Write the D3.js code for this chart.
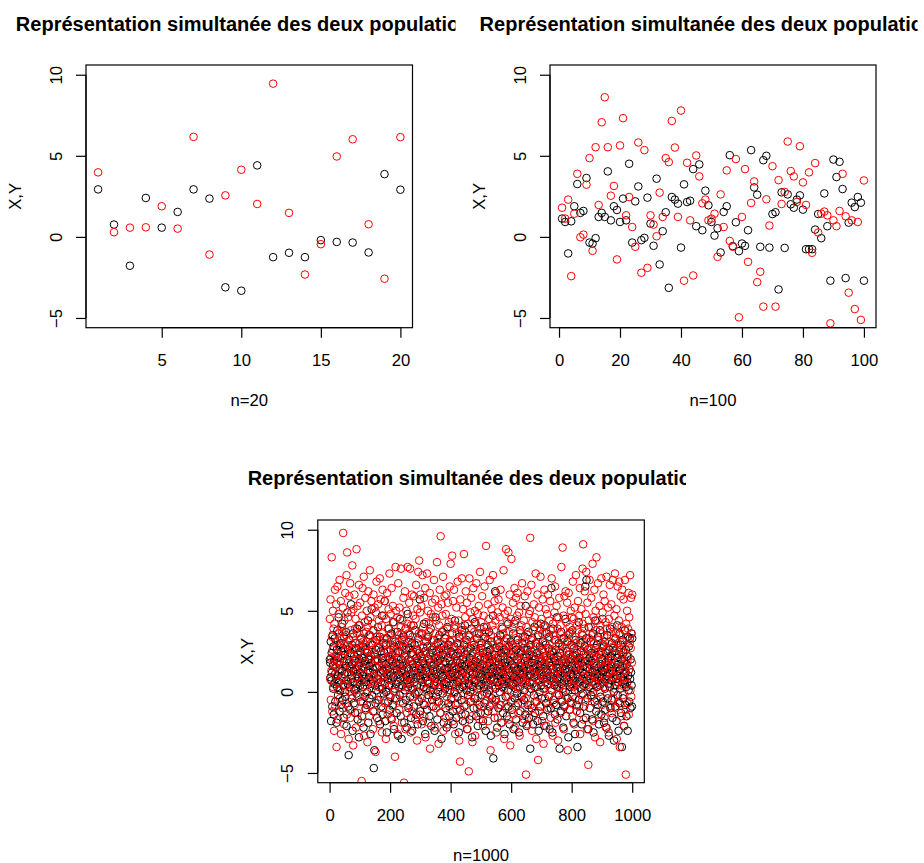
<!DOCTYPE html>
<html>
<head>
<meta charset="utf-8">
<script src="https://cdn.jsdelivr.net/npm/d3@7"></script>
<style>
  body { margin: 0; background: #fff; }
  svg { display: block; font-family: "Liberation Sans", Arial, sans-serif; }
</style>
</head>
<body>
<svg id="chart" width="924" height="863"></svg>
<script>
const titleText = "Représentation simultanée des deux populations";
const yLim = [-5, 10];
const yTicks = [-5, 0, 5, 10];

// n = 20
const xTicks20 = [5, 10, 15, 20];
const x20 = [2.93, 0.76, -1.78, 2.40, 0.57, 1.54, 2.93, 2.36, -3.11, -3.32, 4.41, -1.25, -0.98, -1.25, -0.20, -0.31, -0.35, -0.96, 3.87, 2.91];
const y20 = [3.98, 0.29, 0.57, 0.59, 1.89, 0.51, 6.17, -1.09, 2.56, 4.14, 2.03, 9.45, 1.48, -2.32, -0.45, 4.96, 6.02, 0.78, -2.58, 6.15];

// n = 100
const xTicks100 = [0, 20, 40, 60, 80, 100];
const x100 = [1.13, 0.92, -1.02, 0.96, 1.89, 3.26, 1.48, 1.60, 3.63, -0.35,
  -0.41, -0.08, 1.23, 1.48, 1.23, 4.04, 1.02, 1.89, 1.66, 0.92,
  2.36, 1.02, 4.51, -0.35, 2.19, 3.11, -0.20, -0.06, 2.42, 0.82,
  -0.55, 3.59, -1.70, 0.35, 1.52, -3.14, 2.46, 2.30, 2.05, -0.66,
  3.24, 2.15, 2.23, 4.18, 0.66, 4.47, 0.41, 2.85, 1.95, 0.92,
  0.08, 0.53, -0.96, 1.54, 1.89, 5.04, -0.57, 0.90, -0.88, -0.41,
  -0.55, 0.41, 5.35, 3.05, 2.60, -0.61, 4.73, 5.00, -0.66, 1.41,
  1.52, -3.24, 2.75, -0.68, 2.62, 2.01, 1.80, 2.30, 2.56, 1.68,
  -0.76, -0.76, -0.76, 0.45, 1.41, -0.08, 2.68, 0.66, -2.70, 4.77,
  3.69, 4.63, 2.95, -2.54, 0.88, 2.11, 1.84, 2.46, 2.11, -2.70];
const y100 = [1.80, 1.13, 2.30, -2.42, 1.43, 3.89, -0.02, 0.14, 3.22, 4.86,
  -0.86, 5.53, 1.97, 7.07, 8.61, 5.53, 2.54, 3.14, -1.39, 5.64,
  7.32, 1.33, 2.46, 0.61, -0.61, 5.82, -2.21, 5.35, -1.91, 1.33,
  0.76, 0.04, 2.73, 1.23, 4.86, 4.61, 7.15, 5.51, 1.23, 7.79,
  -2.70, 4.57, 1.02, -2.38, 5.02, 3.73, 2.07, 2.30, 1.02, 1.13,
  1.43, -1.23, 2.62, 0.61, 4.10, -0.25, -0.61, 4.80, -4.96, 1.23,
  4.18, -1.54, 2.09, 3.42, -2.79, -2.15, -4.30, 2.32, 0.70, 4.36,
  -4.30, 3.50, 2.03, 2.77, 5.88, 4.06, 3.73, 2.15, 5.59, 3.36,
  1.97, 3.98, -0.98, 4.55, 0.27, 1.43, 1.56, 1.33, -5.33, 1.02,
  0.66, 1.60, 3.89, 1.27, -3.44, 1.02, -4.45, 0.92, -5.12, 3.48];

// n = 1000 (values estimated, too dense to read one by one)
const xTicks1000 = [0, 200, 400, 600, 800, 1000];
const x1000 = [
  2.0, 1.8, 0.9, 3.1, -1.8, 0.7, 2.4, 1.2, -0.9, 3.5, 1.6, 0.2, 2.8, -1.4, 1.9, 0.5, 3.3, 1.1, -0.6, 2.2,
  0.8, 1.5, -1.9, 2.6, 0.3, 3.8, 1.0, -0.2, 2.1, 4.6, 0.6, 1.7, -1.2, 2.9, 0.1, 1.4, 3.0, -0.8, 2.5, 0.9,
  1.3, 4.2, -0.5, 2.7, 0.4, 1.9, -1.6, 3.4, 1.1, 0.0, 2.3, -0.3, 1.6, 3.7, 0.7, -2.1, 2.0, 1.2, 4.9, 0.5,
  2.6, -0.9, -3.9, 1.8, 3.2, 0.3, 1.5, -1.1, 2.4, 0.8, 5.4, 1.0, -0.4, 2.9, 1.7, -2.4, 0.6, 3.6, 1.3, -0.7,
  2.2, 0.1, 1.9, -1.3, 3.0, 1.4, 0.2, 2.7, -0.1, 1.1, 3.9, 0.5, -1.7, 2.3, 1.6, 0.9, -2.8, 2.0, 4.1, 1.2,
  0.4, 2.5, -0.6, 1.8, 3.3, 0.7, -1.5, 2.1, 1.0, 0.3, 2.8, -2.2, 1.5, 3.6, 0.8, -0.3, 1.9, 2.6, -1.0, 0.6,
  1.7, 3.1, -0.8, 2.4, 0.0, 1.3, 4.4, -1.9, 2.0, 0.9, 1.6, -0.4, 3.5, 1.2, -2.6, 2.2, 0.5, 1.8, 5.1, -0.2,
  2.9, 0.7, 1.4, -1.2, 3.8, -4.7, 1.1, -3.6, 2.3, 0.4, 1.9, -0.7, 2.6, 0.1, 3.2, 1.5, -1.6, 0.8, 2.0, 4.0,
  1.0, -0.5, 2.7, 0.3, 1.6, 3.4, -2.0, 1.2, 0.6, 2.5, -0.9, 1.8, 4.7, 0.2, -1.4, 2.1, 1.3, 3.0, -0.1, 0.9,
  2.4, 5.6, 0.5, -1.8, 1.7, 2.9, 0.0, 1.1, -2.5, 3.3, 1.4, 0.8, 2.2, -0.6, 1.5, 3.9, 0.4, -1.1, 2.0, 1.2,
  -0.3, 2.6, 1.0, 3.6, -1.7, 0.7, 1.9, 2.3, -0.8, 4.3, 0.9, 1.6, -2.3, 2.8, 0.2, 1.3, 3.1, -0.4, 1.8, 0.5,
  2.1, -1.3, 1.4, 3.7, 0.6, -2.7, 2.5, 1.1, 0.3, 2.9, -0.2, 1.7, 4.5, 0.8, -1.5, 2.0, 1.2, -2.9, 3.2, 0.4,
  1.6, 2.8, -0.7, 0.9, 3.4, 1.3, -1.9, 2.2, 0.1, 1.8, 3.9, -0.5, 1.0, 2.6, -2.2, 0.7, 1.5, 4.8, 0.3, 2.0,
  -1.0, 1.4, 2.7, 0.5, 3.5, -0.3, 1.9, 0.8, -1.6, 2.4, 1.1, 3.0, -2.4, 1.7, 0.2, 2.3, 4.1, -0.9, 1.3, 0.6,
  2.9, -0.1, 1.5, 3.8, 0.9, -1.4, 2.1, 1.2, 0.4, 2.6, -2.0, 1.8, 3.3, 0.0, 1.6, -0.6, 2.4, 5.7, 1.0, -1.2,
  0.8, 2.2, 1.4, -0.4, 3.6, 0.6, 1.9, -1.8, 2.7, 1.1, 0.3, 4.2, -0.8, 1.7, 2.5, -2.6, 0.9, 1.3, 3.1, 0.2,
  1.5, -1.1, 2.8, 0.7, 1.2, 3.4, -0.2, 2.0, 0.5, -1.5, 1.8, 2.3, 0.1, 3.9, 1.0, -2.1, 1.6, 2.6, -0.5, 0.9,
  2.4, 1.3, -0.9, 3.2, 0.4, 1.7, -2.4, 2.1, 0.8, 4.6, 1.1, -0.3, 2.5, 0.6, 1.4, -1.7, 3.0, 1.9, 0.0, 2.2,
  -0.6, 1.6, 3.5, 0.3, 2.0, -1.3, 1.2, 2.7, 0.7, -2.9, 1.5, 3.7, 0.9, -0.1, 2.3, 1.0, -1.9, 2.8, 0.5, 1.4,
  3.3, 0.2, -1.0, 1.8, 2.6, 0.6, -2.2, 1.3, 4.0, 0.8, 2.1, -0.7, 1.5, 2.9, 0.4, -1.5, 1.9, 3.1, 0.1, 1.1,
  2.5, -0.4, 1.7, 0.9, 3.6, 1.2, -1.2, 2.3, 0.5, -2.0, 1.6, 2.8, 0.0, 4.4, 1.0, -0.8, 2.2, 1.4, -1.6, 0.7,
  1.9, 3.0, -0.3, 1.1, 2.4, 0.6, -2.5, 1.5, 3.4, 0.2, 1.8, -1.1, 2.6, 0.8, 1.3, -0.5, 3.8, 1.7, 0.3, -1.8,
  2.0, 1.2, 0.4, 2.9, -0.9, 1.6, 4.1, 0.7, -1.4, 2.3, 1.0, 0.1, 3.2, -2.3, 1.4, 2.5, 0.9, -0.2, 1.8, 3.5,
  0.5, -1.7, 2.1, 1.3, 0.0, 2.7, -0.6, 1.6, 3.9, 0.8, -2.8, 1.1, 2.4, 0.3, 1.7, -1.0, 2.9, 1.5, 0.6, 4.3,
  -0.4, 1.9, 2.6, 0.7, -1.5, 1.2, 3.3, 0.2, 1.8, -2.1, 2.2, 1.0, 0.4, 3.6, -0.8, 1.4, 2.0, 0.9, -1.3, 2.7,
  1.1, 0.5, 3.0, -0.2, 1.7, 2.4, -1.8, 0.8, 1.5, 4.0, 0.3, -0.7, 2.1, 1.3, 3.4, -2.4, 1.0, 0.6, 2.5, -0.1,
  1.6, 2.9, 0.4, -1.2, 2.2, 1.0, 3.7, 0.1, -0.9, 1.8, 2.6, 0.7, -2.7, 1.4, 3.1, 0.9, -0.4, 2.0, 1.2, 4.7,
  -4.1, 1.5, 0.8, 2.3, -1.6, 1.1, 6.2, 0.2, 1.9, -0.5, 2.7, 1.3, 0.6, -2.2, 3.2, 1.0, 2.1, -1.0, 0.4, 1.7,
  2.8, 0.0, 1.4, 3.5, -0.8, 1.2, 2.4, -1.9, 0.7, 1.6, 3.9, 0.3, -1.3, 2.2, 1.1, 0.5, 2.6, -2.6, 1.8, 0.9,
  1.3, -0.3, 2.5, 0.8, 3.3, -1.5, 1.6, 2.0, 0.1, 4.2, -0.9, 1.4, 2.8, 0.6, -2.0, 1.9, 1.0, 3.1, -0.6, 2.3,
  0.4, 1.7, -1.1, 2.9, 1.2, 0.5, 3.6, -2.3, 1.5, 0.9, 2.2, -0.4, 1.0, 4.4, 0.2, -1.7, 2.6, 1.3, 0.7, -0.1,
  2.0, 3.2, -0.7, 1.4, 0.8, -2.5, 2.4, 1.1, 0.3, 3.8, -1.2, 1.8, 2.5, 0.6, -0.3, 1.6, 3.0, -1.9, 1.2, 0.9,
  2.7, -0.5, 1.5, 0.1, 3.4, 1.9, -1.4, 5.3, 0.7, 2.1, -2.1, 1.3, 2.6, 0.4, -0.8, 1.7, 3.7, 1.0, -1.6, 2.3,
  0.6, 1.4, -3.5, 2.9, 1.1, 0.2, 2.5, -1.0, 1.8, 3.3, 0.5, -2.0, 1.6, 2.2, -0.2, 0.9, 4.0, 1.2, -1.3, 2.0,
  1.5, 3.0, 0.3, -0.6, 2.4, 1.0, -1.8, 1.7, 3.5, 0.7, -2.4, 2.1, 1.3, 0.0, 2.8, -0.9, 1.6, 4.2, 0.4, 1.9,
  -0.4, 2.6, 1.1, 0.8, 3.1, -1.5, 1.4, 2.2, 0.2, -2.1, 4.1, 1.7, 0.6, 2.9, -0.7, 1.2, 3.6, 0.9, -1.1, 2.0,
  1.3, 0.5, 2.7, -0.3, 1.8, 3.4, -2.3, 1.0, 0.7, 2.3, -1.0, 1.6, 6.4, 0.1, 2.5, -2.5, 1.4, 3.9, 0.8, -0.5,
  2.1, 1.2, 0.4, 3.2, -1.4, 1.9, 0.6, 2.6, -0.8, 1.5, 4.6, 0.3, -1.7, 2.2, 1.1, 0.9, 3.0, -0.2, 1.7, -3.5,
  0.8, 2.4, 1.3, -1.2, 3.7, 0.5, 1.9, -0.6, 2.8, 1.0, 0.2, -2.2, 1.6, 3.3, 0.7, -0.9, 2.0, 1.4, 4.5, 0.0,
  1.8, -1.5, 2.5, 0.9, 1.2, 3.1, -0.4, 1.7, -2.8, 2.3, 0.6, 1.4, 3.6, -1.1, 0.3, 2.0, 1.1, -0.7, 2.9, 0.5,
  1.6, 3.8, -0.3, 1.0, 2.2, -1.9, 0.7, 2.7, 1.3, 0.1, -2.6, 1.9, 3.2, 0.4, 1.5, -0.8, 2.4, 1.1, -3.4, 2.0,
  0.9, 1.7, 4.3, -0.5, 2.1, 0.6, 1.4, -1.3, 3.0, 0.2, 1.8, 2.5, -2.0, 0.8, 1.2, 3.5, -0.1, 1.6, 0.4, 2.3,
  -0.9, 1.1, 2.8, 0.5, 6.5, 1.9, -1.6, 3.3, 6.9, 0.7, 1.5, -0.4, 2.6, 1.0, -2.3, 4.0, 0.3, 1.7, 2.1, -1.0,
  1.4, 0.8, 3.1, -0.2, 1.9, 2.4, -1.7, 0.6, 1.2, 3.6, 0.0, -2.5, 1.8, 2.2, 0.9, -0.6, 1.3, 4.4, 0.5, 2.7,
  -1.2, 1.6, 0.3, 2.9, 1.1, -0.8, 3.4, 0.7, 1.5, -2.0, 2.3, 1.0, 0.4, 3.8, -0.3, 1.7, 2.5, -1.4, 0.9, 1.3,
  2.0, 4.5, -0.6, 1.2, 0.6, 2.8, -1.9, 1.5, 3.1, 0.2, -1.1, 1.8, 2.4, 0.8, -2.2, 1.0, 3.5, 1.4, -0.4, 2.1,
  0.5, 1.9, -2.7, 2.6, 1.1, 0.3, 3.9, -1.0, 1.6, 2.2, 0.7, -0.5, 1.3, 3.0, -1.6, 0.9, 2.7, 1.2, 0.0, -3.0,
  1.8, 2.5, 0.4, -0.9, 3.3, 1.5, 0.8, -1.8, 2.1, 1.0, 4.1, -0.2, 1.7, 0.6, -2.4, 2.3, 1.3, 3.6, -0.7, 0.2,
  1.4, 2.9, -1.3, 0.9, 2.0, -3.4, 1.6, 3.2, 0.5, -0.4, 2.4, 1.1, -2.1, 0.7, 1.9, 3.8, -0.8, 1.2, 2.6, 0.3,
  -1.5, 1.7, 2.2, 0.6, -2.4, 3.4, 1.0, 0.1, 2.8, -0.6, 1.4, 3.3, 0.8, -1.0, 2.0, 1.2, 3.6, 0.4, -0.9, 3.3];
const y1000 = [
  4.5, 0.8, 5.7, -0.5, 2.1, 1.3, 8.3, 3.4, -1.2, 2.6, 5.0, 0.3, 3.9, 1.7, -2.4, 4.2, 2.0, 6.3, -0.9, 1.5,
  3.1, 5.4, -3.4, 2.4, 0.6, 6.5, 1.9, -1.7, 3.6, 4.8, 0.1, 2.8, 6.9, -0.4, 3.3, 1.2, 5.6, -2.6, 2.2, 4.0,
  0.9, 3.7, -1.0, 5.2, 9.8, 1.6, 3.0, -2.0, 4.4, 0.4, 2.5, 6.1, -0.7, 3.5, 1.8, 7.2, -1.4, 8.6, 2.9, 0.7,
  4.6, 1.1, -2.9, 3.2, 5.9, 0.0, 2.3, 6.7, -1.6, 3.8, 1.4, 4.9, -0.2, 2.7, 7.8, 0.5, 3.4, -3.3, 5.1, 1.9,
  2.6, 6.0, -0.8, 3.9, 1.2, 4.5, -2.2, 2.0, 8.8, 0.9, 3.6, 5.3, -1.3, 2.4, 0.2, 4.1, 6.6, -0.3, 3.0, 1.7,
  5.5, 0.6, 3.3, -1.9, 2.8, -5.5, 4.7, 1.5, 6.4, -0.6, 3.1, 2.2, 7.1, -2.7, 1.0, 4.3, 0.4, 5.8, -1.1, 2.9,
  3.7, -0.1, 5.0, 1.8, -3.1, 4.0, 2.5, 6.2, 0.7, 3.5, -1.5, 2.1, 7.5, 1.3, 4.6, -0.8, 3.0, 5.6, 0.2, 2.6,
  4.2, 1.0, -2.3, 3.8, 6.0, 0.5, 2.4, -1.2, 5.2, 3.1, 1.6, -3.7, 4.9, 2.0, 6.8, 0.8, -0.5, 3.4, 1.9, 5.4,
  2.7, -1.8, 4.4, 0.3, 3.2, 7.0, 1.2, -0.3, 5.7, 2.3, 0.9, 4.1, -2.5, 3.6, 6.3, 1.5, -1.0, 2.8, 4.7, 0.6,
  3.3, 5.6, -0.7, 2.0, 1.4, -2.9, 4.5, 3.0, 0.1, 6.1, 2.5, -1.4, 3.9, 1.1, 5.1, -0.2, 2.2, 7.3, 0.8, 3.5,
  1.7, 4.8, -1.6, 2.9, 6.4, 0.4, 3.2, -0.9, 5.3, 1.9, 2.6, -2.1, 4.3, 0.0, 3.7, -4.0, 1.3, 7.7, 2.4, 5.0,
  -0.4, 3.0, 1.6, 4.6, -2.6, 2.1, 6.7, 0.9, 3.5, -1.1, 5.2, 1.4, 2.8, -0.6, 4.0, 7.6, 0.3, 3.3, -1.9, 2.5,
  4.4, 1.2, -0.1, 5.8, 2.7, -5.6, 3.1, 0.7, 6.2, 1.8, -2.3, 3.9, 2.2, 5.0, 0.5, -1.3, 4.2, 7.7, 1.0, 3.6,
  2.0, -0.8, 5.5, 3.2, 0.6, 7.6, 1.7, -2.5, 4.1, 2.9, 0.2, 6.0, -1.2, 3.4, 1.5, 4.7, -0.3, 2.3, 5.9, 0.8,
  3.8, 1.1, -1.7, 4.5, 2.6, 6.6, 0.0, 3.0, -3.0, 5.1, 1.9, 2.4, 7.4, -0.5, 3.6, 8.1, 1.3, -1.4, 4.9, 6.0,
  2.1, 0.4, 5.3, -2.0, 3.5, 1.6, 7.2, -0.7, 4.0, 2.8, 0.9, 5.8, -1.5, 3.1, 1.8, 6.4, -2.8, 2.5, 4.3, 0.1,
  3.4, 7.3, -0.4, 2.0, 5.0, 1.3, -1.9, 4.2, 0.6, 3.7, 6.1, -3.5, 2.3, 1.0, 4.8, 0.3, -0.9, 3.2, 5.5, 1.7,
  -0.2, 4.6, 2.7, 0.8, 6.9, 1.4, -2.2, 3.6, 5.7, 0.5, 2.9, -1.0, 4.4, 1.9, 8.0, -0.6, 3.3, 2.1, 5.2, -3.2,
  1.6, 4.1, 0.2, 6.3, 2.5, -1.3, 9.6, 3.0, 0.7, 5.4, -0.8, 2.2, 4.7, 1.1, 7.1, -2.4, 3.8, 0.4, 2.6, 5.9,
  0.9, 3.5, -1.6, 4.8, 1.7, 6.0, -0.3, 2.4, 3.9, 0.0, 5.5, -2.0, 1.4, 4.3, 2.8, -0.9, 6.5, 1.2, 3.1, 7.9,
  2.3, -0.5, 4.5, 1.0, 8.4, 3.2, -1.8, 5.6, 0.6, 2.7, 6.3, -0.1, 3.9, 1.5, -2.6, 4.1, 2.0, 0.3, 5.2, -1.1,
  3.6, 1.8, 6.8, -0.7, 2.9, 4.4, 0.5, -3.0, 3.3, 1.2, -4.3, 5.7, 2.2, 0.8, 4.0, -1.4, 7.0, 2.6, 1.0, 3.5,
  5.1, -0.2, 2.4, 8.5, 1.3, 3.8, -1.9, 4.6, 0.4, 6.2, 2.1, -0.8, 3.0, 5.5, 1.6, -2.3, 4.2, 0.9, 2.7, -4.9,
  3.4, 7.0, 1.1, -0.6, 4.9, 2.3, 0.1, 5.8, -1.5, 3.1, 1.7, -3.1, 4.5, 2.0, 6.4, 0.6, -0.4, 3.7, 1.4, 5.0,
  -2.7, 2.8, 4.2, 0.8, 6.7, 1.5, -1.0, 3.6, 2.2, 4.8, -0.3, 1.0, 5.3, 3.0, -1.7, 2.5, 7.4, 0.2, 3.9, 1.8,
  4.3, -0.9, 2.6, 5.9, 0.7, 3.3, -2.1, 1.6, 4.7, 2.1, 0.0, 6.5, 1.2, -1.3, 3.7, 2.4, 9.0, -0.5, 4.0, 1.9,
  0.6, 3.2, 5.4, -1.8, 2.8, 1.3, 4.5, -0.2, 6.9, 2.0, 0.9, -3.6, 3.5, 1.7, 5.1, -0.7, 2.3, 4.1, 0.4, 7.2,
  2.9, -1.2, 3.8, 1.1, 5.6, 0.3, -0.6, 4.4, 2.5, 6.1, -2.5, 1.8, 3.2, 0.7, 4.9, -1.6, 2.2, 5.7, 1.4, 3.0,
  -0.8, 4.6, 2.0, 0.5, 6.3, 3.4, -1.9, 1.5, 4.0, 2.7, -0.4, 5.2, 1.0, 3.6, 7.5, 0.2, -2.9, 2.4, 4.8, 1.3,
  3.1, 0.6, 8.8, -1.0, 2.5, 4.3, 1.8, -0.3, 5.0, 2.9, 8.6, 0.9, -1.7, 3.7, 6.0, 1.4, -3.3, 2.6, 4.5, 0.1,
  8.2, 2.1, -0.5, 3.9, 1.2, 5.5, -1.4, 2.8, 0.4, 4.2, 6.4, -2.2, 1.9, 3.3, 0.7, 5.8, -0.9, 2.3, 1.0, 4.7,
  6.1, 0.3, 3.0, -1.3, 2.5, 4.9, 1.6, -2.7, 3.6, 0.8, 5.3, 2.0, -0.2, 4.1, 1.3, 6.7, -0.7, 2.9, 3.4, 0.5,
  1.9, 4.4, -1.7, 2.2, 5.9, 0.6, 3.1, -0.4, -5.1, 4.0, 1.5, 2.7, -2.0, 6.2, 0.9, 3.5, 1.1, -1.1, 4.8, 2.4,
  0.0, 5.0, 9.5, 1.7, -0.8, 3.2, 6.6, 2.0, -2.4, 4.3, 0.5, 3.8, 1.2, -1.5, 5.4, 2.6, 0.3, 4.6, -0.6, 3.0,
  7.3, 1.4, -2.9, 2.8, 0.8, 4.2, 6.0, -0.3, -4.2, 3.4, 1.9, 5.2, -1.2, 2.3, 0.6, 3.9, 7.1, -0.9, 2.0, 4.5,
  1.1, -1.8, 3.6, 5.7, 0.2, 2.5, -3.2, 4.0, 1.6, 6.3, 3.0, -0.4, 2.2, 5.1, 0.9, -2.1, 3.7, 1.3, 4.8, 0.4,
  2.7, 6.0, -1.0, 3.3, 1.5, 4.4, -0.2, 2.1, 5.6, 0.8, -1.6, 3.8, 1.9, 7.0, 0.1, 2.6, -2.7, 4.2, 1.2, 3.5,
  -0.7, 2.4, 4.9, 1.0, 6.5, -1.9, 3.2, 0.5, 2.8, 5.3, 1.4, -0.1, 3.9, 2.0, -3.0, 4.6, 1.7, 0.3, 5.8, 2.9,
  3.6, 0.7, -1.3, 4.1, 2.2, 7.7, 1.1, -0.5, 3.3, 8.9, 0.0, 2.5, 4.7, -2.3, 1.8, 5.9, 3.1, -0.8, 2.0, 6.2,
  1.3, 4.3, -0.3, 2.7, 5.5, 0.6, -3.6, 3.5, 1.9, 6.1, 2.3, -1.1, 4.0, 1.0, 3.7, -0.6, 5.0, 2.1, 0.4, 4.6,
  2.8, -1.5, 3.4, 6.8, 1.2, 0.3, 4.5, -2.0, 2.4, 5.2, 1.6, -0.4, 3.0, 7.2, 0.8, 2.2, -1.2, 4.1, 1.5, 3.8,
  5.6, 0.1, 2.9, -0.9, 4.7, 1.9, 6.4, -2.6, 3.2, 0.6, 2.0, 5.1, -0.2, 3.6, 1.3, 7.6, 4.2, 9.1, -1.7, 2.5,
  0.9, 3.9, 6.2, 1.4, -0.6, 4.8, 2.3, 7.4, 0.4, 3.1, -2.3, 5.5, 1.8, 2.6, -4.5, 4.4, 0.7, 3.3, 6.9, 1.1,
  -1.0, 2.7, 4.0, 0.2, 5.8, 1.6, -0.3, 3.5, 7.9, 2.1, -1.8, 4.6, 1.0, 3.0, 6.3, 0.5, -2.8, 2.4, 5.0, 1.7,
  3.8, 8.3, -0.5, 2.2, 4.4, 0.8, 6.7, 1.4, -1.4, 3.2, 2.5, 5.3, 0.0, -3.1, 4.1, 1.9, 3.6, 7.0, 0.6, 2.8,
  -0.8, 4.9, 1.5, 2.9, 6.0, 0.3, 3.4, -1.6, 5.6, 2.0, 1.1, 4.3, -2.2, 2.6, 7.1, 0.7, 3.9, -0.1, 1.8, 5.2,
  2.4, -2.5, 4.5, 1.2, 3.1, 6.6, 0.5, -0.9, 3.7, 2.0, 5.4, -1.3, 1.6, 4.0, 0.9, 6.9, 2.8, -0.4, 3.3, 1.0,
  4.7, 0.2, 7.3, 2.3, -1.0, 3.6, 1.4, 5.1, -2.9, 2.7, 0.6, 6.5, 3.0, -0.6, 1.9, 4.4, 6.8, 0.8, -3.4, 3.5,
  1.1, 5.9, 2.6, -1.5, 4.0, 0.4, 6.3, 3.1, -0.2, 1.7, 5.7, 2.4, -2.1, 3.8, 0.9, 6.9, 1.3, -1.1, -5.1, 4.2,
  3.3, 0.5, 5.0, 1.9, -0.7, 3.9, 2.2, 6.1, -1.4, 4.6, 1.4, 3.0, 7.2, 0.1, 2.7, 5.8, -0.3, 3.6, 1.8, 6.0];

const svg = d3.select("#chart");

const panels = [
  { n: 20, X: x20, Y: y20, ticks: xTicks20, xlab: "n=20",
    plot: { left: 86, right: 412.5, top: 65, bottom: 327.7 }, clip: [0, 0, 455.5, 431], titleY: 30.5 },
  { n: 100, X: x100, Y: y100, ticks: xTicks100, xlab: "n=100",
    plot: { left: 550, right: 876, top: 65, bottom: 327.7 }, clip: [462, 0, 455.5, 431], titleY: 30.5 },
  { n: 1000, X: x1000, Y: y1000, ticks: xTicks1000, xlab: "n=1000",
    plot: { left: 317.8, right: 644.3, top: 520, bottom: 782.7 }, clip: [231, 431, 455, 432], titleY: 485 }
];

panels.forEach((p, k) => drawPanel(p, k));

function drawPanel(p, k) {
  const pad = 0.04 * (p.n - 1);
  const yPad = 0.04 * (yLim[1] - yLim[0]);
  const x = d3.scaleLinear().domain([1 - pad, p.n + pad]).range([p.plot.left, p.plot.right]);
  const y = d3.scaleLinear().domain([yLim[0] - yPad, yLim[1] + yPad]).range([p.plot.bottom, p.plot.top]);

  const defs = svg.append("defs");
  defs.append("clipPath").attr("id", "plotclip" + k)
    .append("rect")
    .attr("x", p.plot.left).attr("y", p.plot.top)
    .attr("width", p.plot.right - p.plot.left).attr("height", p.plot.bottom - p.plot.top);
  defs.append("clipPath").attr("id", "figclip" + k)
    .append("rect")
    .attr("x", p.clip[0]).attr("y", p.clip[1]).attr("width", p.clip[2]).attr("height", p.clip[3]);

  const g = svg.append("g");

  // points: X in black first, then Y in red on top
  const pts = g.append("g").attr("clip-path", `url(#plotclip${k})`);
  pts.selectAll("circle.x")
    .data(p.X)
    .enter()
    .append("circle")
    .attr("class", "x")
    .attr("cx", (_, i) => x(i + 1))
    .attr("cy", d => y(d))
    .attr("r", 3.8)
    .attr("fill", "none")
    .attr("stroke", "#000")
    .attr("stroke-width", 1);
  pts.selectAll("circle.y")
    .data(p.Y)
    .enter()
    .append("circle")
    .attr("class", "y")
    .attr("cx", (_, i) => x(i + 1))
    .attr("cy", d => y(d))
    .attr("r", 3.8)
    .attr("fill", "none")
    .attr("stroke", "#ff0000")
    .attr("stroke-width", 1);

  // box
  g.append("rect")
    .attr("x", p.plot.left).attr("y", p.plot.top)
    .attr("width", p.plot.right - p.plot.left).attr("height", p.plot.bottom - p.plot.top)
    .attr("fill", "none").attr("stroke", "#000").attr("stroke-width", 1.2);

  // x axis
  const xAxis = g.append("g")
    .attr("transform", `translate(0,${p.plot.bottom})`)
    .call(d3.axisBottom(x).tickValues(p.ticks).tickSize(10).tickFormat(d3.format("d")));
  xAxis.select(".domain").remove();
  xAxis.append("line")
    .attr("x1", x(p.ticks[0])).attr("x2", x(p.ticks[p.ticks.length - 1]))
    .attr("stroke", "#000").attr("stroke-width", 1.2);
  xAxis.selectAll(".tick line").attr("stroke", "#000").attr("stroke-width", 1.2);
  xAxis.selectAll(".tick text")
    .attr("y", 38).attr("dy", null)
    .attr("fill", "#000")
    .style("font-size", "16.7px")
    .style("font-family", '"Liberation Sans", Arial, sans-serif');

  // y axis
  const yAxis = g.append("g")
    .attr("transform", `translate(${p.plot.left},0)`)
    .call(d3.axisLeft(y).tickValues(yTicks).tickSize(10).tickFormat(d => d < 0 ? "\u2212" + Math.abs(d) : d));
  yAxis.select(".domain").remove();
  yAxis.append("line")
    .attr("y1", y(yTicks[0])).attr("y2", y(yTicks[yTicks.length - 1]))
    .attr("stroke", "#000").attr("stroke-width", 1.2);
  yAxis.selectAll(".tick line").attr("stroke", "#000").attr("stroke-width", 1.2);
  yAxis.selectAll(".tick text")
    .attr("x", 0).attr("y", -24.5).attr("dy", null)
    .attr("transform", "rotate(-90)")
    .attr("text-anchor", "middle")
    .attr("fill", "#000")
    .style("font-size", "16.7px")
    .style("font-family", '"Liberation Sans", Arial, sans-serif');

  // axis titles
  g.append("text")
    .attr("x", (p.plot.left + p.plot.right) / 2)
    .attr("y", p.plot.bottom + 78.3)
    .attr("text-anchor", "middle")
    .style("font-size", "16.7px")
    .text(p.xlab);
  const cy = (p.plot.top + p.plot.bottom) / 2;
  g.append("text")
    .attr("transform", `translate(${p.plot.left - 65},${cy}) rotate(-90)`)
    .attr("text-anchor", "middle")
    .style("font-size", "16.7px")
    .text("X,Y");

  // main title, cut at the same place as in the original R device
  g.append("text")
    .attr("clip-path", `url(#figclip${k})`)
    .attr("x", (p.plot.left + p.plot.right) / 2)
    .attr("y", p.titleY)
    .attr("text-anchor", "middle")
    .style("font-size", "20px")
    .style("font-weight", "bold")
    .text(titleText);
}
</script>
</body>
</html>
